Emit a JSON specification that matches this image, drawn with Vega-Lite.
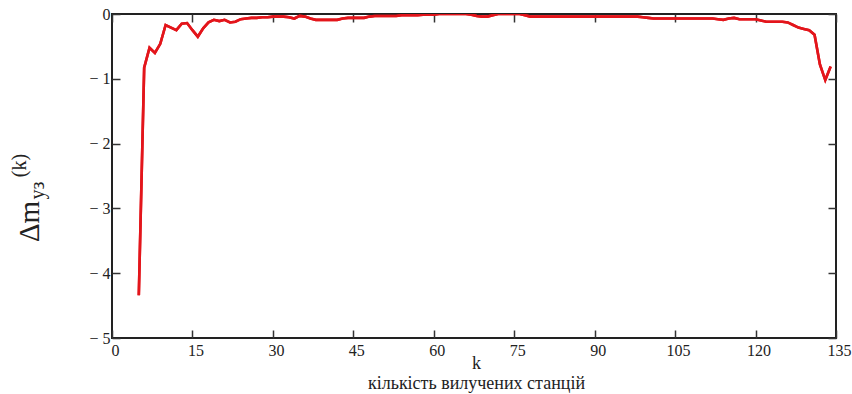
{
  "$schema": "https://vega.github.io/schema/vega-lite/v6.json",
  "autosize": "none",
  "width": 724,
  "height": 324,
  "padding": {"left": 112, "top": 14, "right": 16, "bottom": 56},
  "background": "white",
  "config": {
    "view": {"stroke": "#222", "strokeWidth": 2},
    "font": "Times New Roman, Liberation Serif, serif",
    "axis": {
      "grid": false,
      "domain": false,
      "labelFont": "Times New Roman, Liberation Serif, serif",
      "titleFont": "Times New Roman, Liberation Serif, serif",
      "labelFontSize": 16,
      "labelColor": "#222",
      "titleColor": "#222",
      "titleFontWeight": "normal",
      "tickColor": "#333",
      "tickWidth": 1.5,
      "tickSize": -8
    }
  },
  "data": {
    "values": [
      {"k": 5, "v": -4.34}, {"k": 6, "v": -0.83}, {"k": 7, "v": -0.52}, {"k": 8, "v": -0.6},
      {"k": 9, "v": -0.46}, {"k": 10, "v": -0.17}, {"k": 11, "v": -0.21}, {"k": 12, "v": -0.25},
      {"k": 13, "v": -0.15}, {"k": 14, "v": -0.14}, {"k": 15, "v": -0.25}, {"k": 16, "v": -0.35},
      {"k": 17, "v": -0.22}, {"k": 18, "v": -0.13}, {"k": 19, "v": -0.09}, {"k": 20, "v": -0.11},
      {"k": 21, "v": -0.09}, {"k": 22, "v": -0.13}, {"k": 23, "v": -0.12}, {"k": 24, "v": -0.08},
      {"k": 25, "v": -0.07}, {"k": 26, "v": -0.06}, {"k": 27, "v": -0.06}, {"k": 28, "v": -0.05},
      {"k": 29, "v": -0.05}, {"k": 30, "v": -0.04}, {"k": 31, "v": -0.04}, {"k": 32, "v": -0.04},
      {"k": 33, "v": -0.05}, {"k": 34, "v": -0.07}, {"k": 35, "v": -0.03}, {"k": 36, "v": -0.04},
      {"k": 37, "v": -0.07}, {"k": 38, "v": -0.09}, {"k": 39, "v": -0.09}, {"k": 40, "v": -0.09},
      {"k": 41, "v": -0.09}, {"k": 42, "v": -0.09}, {"k": 43, "v": -0.07}, {"k": 44, "v": -0.06},
      {"k": 45, "v": -0.06}, {"k": 46, "v": -0.06}, {"k": 47, "v": -0.06}, {"k": 48, "v": -0.04},
      {"k": 49, "v": -0.03}, {"k": 50, "v": -0.03}, {"k": 51, "v": -0.03}, {"k": 52, "v": -0.03},
      {"k": 53, "v": -0.03}, {"k": 54, "v": -0.02}, {"k": 55, "v": -0.02}, {"k": 56, "v": -0.02},
      {"k": 57, "v": -0.02}, {"k": 58, "v": -0.01}, {"k": 59, "v": -0.01}, {"k": 60, "v": -0.01},
      {"k": 61, "v": 0}, {"k": 62, "v": 0}, {"k": 63, "v": 0}, {"k": 64, "v": 0},
      {"k": 65, "v": 0}, {"k": 66, "v": 0}, {"k": 67, "v": -0.01}, {"k": 68, "v": -0.03},
      {"k": 69, "v": -0.04}, {"k": 70, "v": -0.04}, {"k": 71, "v": -0.02}, {"k": 72, "v": 0},
      {"k": 73, "v": 0}, {"k": 74, "v": 0}, {"k": 75, "v": 0}, {"k": 76, "v": 0},
      {"k": 77, "v": -0.02}, {"k": 78, "v": -0.04}, {"k": 79, "v": -0.04}, {"k": 80, "v": -0.04},
      {"k": 81, "v": -0.04}, {"k": 82, "v": -0.04}, {"k": 83, "v": -0.04}, {"k": 84, "v": -0.04},
      {"k": 85, "v": -0.04}, {"k": 86, "v": -0.04}, {"k": 87, "v": -0.04}, {"k": 88, "v": -0.04},
      {"k": 89, "v": -0.04}, {"k": 90, "v": -0.04}, {"k": 91, "v": -0.04}, {"k": 92, "v": -0.04},
      {"k": 93, "v": -0.04}, {"k": 94, "v": -0.04}, {"k": 95, "v": -0.04}, {"k": 96, "v": -0.04},
      {"k": 97, "v": -0.04}, {"k": 98, "v": -0.04}, {"k": 99, "v": -0.05}, {"k": 100, "v": -0.06},
      {"k": 101, "v": -0.07}, {"k": 102, "v": -0.07}, {"k": 103, "v": -0.07}, {"k": 104, "v": -0.07},
      {"k": 105, "v": -0.07}, {"k": 106, "v": -0.07}, {"k": 107, "v": -0.07}, {"k": 108, "v": -0.07},
      {"k": 109, "v": -0.07}, {"k": 110, "v": -0.07}, {"k": 111, "v": -0.07}, {"k": 112, "v": -0.07},
      {"k": 113, "v": -0.08}, {"k": 114, "v": -0.09}, {"k": 115, "v": -0.07}, {"k": 116, "v": -0.06},
      {"k": 117, "v": -0.08}, {"k": 118, "v": -0.08}, {"k": 119, "v": -0.08}, {"k": 120, "v": -0.08},
      {"k": 121, "v": -0.1}, {"k": 122, "v": -0.12}, {"k": 123, "v": -0.12}, {"k": 124, "v": -0.12},
      {"k": 125, "v": -0.12}, {"k": 126, "v": -0.13}, {"k": 127, "v": -0.17}, {"k": 128, "v": -0.21},
      {"k": 129, "v": -0.23}, {"k": 130, "v": -0.25}, {"k": 131, "v": -0.32}, {"k": 132, "v": -0.78},
      {"k": 133, "v": -1.02}, {"k": 134, "v": -0.81}
    ]
  },
  "layer": [
    {
      "mark": {"type": "line", "color": "#e3151b", "strokeWidth": 2.6, "clip": true},
      "encoding": {
        "x": {
          "field": "k", "type": "quantitative",
          "scale": {"domain": [0, 135], "nice": false, "zero": false},
          "axis": {
            "orient": "bottom",
            "values": [0, 15, 30, 45, 60, 75, 90, 105, 120, 135],
            "labelPadding": 12,
            "labelOffset": 3,
            "labelFlush": false,
            "title": ["k", "кількість вилучених станцій"],
            "titleFontSize": 18,
            "titleLineHeight": 20,
            "titleAlign": "center",
            "titleBaseline": "alphabetic",
            "titleX": 364,
            "titleY": 30
          }
        },
        "y": {
          "field": "v", "type": "quantitative",
          "scale": {"domain": [-5, 0], "nice": false},
          "axis": {
            "orient": "left",
            "values": [-5, -4, -3, -2, -1, 0],
            "labelExpr": "datum.value < 0 ? '− ' + abs(datum.value) : '0'",
            "labelPadding": 10,
            "labelFlush": false,
            "title": "Δm",
            "titleFontSize": 29,
            "titleAngle": -90,
            "titleX": -74,
            "titleY": 207,
            "titleAlign": "center",
            "titleBaseline": "alphabetic"
          }
        }
      }
    },
    {
      "mark": {"type": "line", "color": "#e3151b", "strokeWidth": 2.6, "clip": true},
      "encoding": {
        "x": {
          "field": "k", "type": "quantitative",
          "scale": {"domain": [0, 135], "nice": false, "zero": false},
          "axis": {"orient": "top", "values": [0, 15, 30, 45, 60, 75, 90, 105, 120, 135], "labels": false, "title": null}
        },
        "y": {
          "field": "v", "type": "quantitative",
          "scale": {"domain": [-5, 0], "nice": false},
          "axis": {"orient": "right", "values": [-5, -4, -3, -2, -1, 0], "labels": false, "title": null}
        }
      }
    },
    {
      "mark": {"type": "line", "opacity": 0, "clip": true},
      "encoding": {
        "x": {"field": "k", "type": "quantitative", "scale": {"domain": [0, 135], "nice": false, "zero": false}, "axis": null},
        "y": {
          "field": "v", "type": "quantitative",
          "scale": {"domain": [-5, 0], "nice": false},
          "axis": {
            "orient": "left", "ticks": false, "labels": false,
            "title": "уз", "titleFontSize": 20, "titleAngle": -90,
            "titleX": -69, "titleY": 176, "titleAlign": "center", "titleBaseline": "alphabetic"
          }
        }
      }
    },
    {
      "mark": {"type": "line", "opacity": 0, "clip": true},
      "encoding": {
        "x": {"field": "k", "type": "quantitative", "scale": {"domain": [0, 135], "nice": false, "zero": false}, "axis": null},
        "y": {
          "field": "v", "type": "quantitative",
          "scale": {"domain": [-5, 0], "nice": false},
          "axis": {
            "orient": "left", "ticks": false, "labels": false,
            "title": "(k)", "titleFontSize": 20, "titleAngle": -90,
            "titleX": -87, "titleY": 151, "titleAlign": "center", "titleBaseline": "alphabetic"
          }
        }
      }
    }
  ],
  "resolve": {"axis": {"x": "independent", "y": "independent"}}
}
